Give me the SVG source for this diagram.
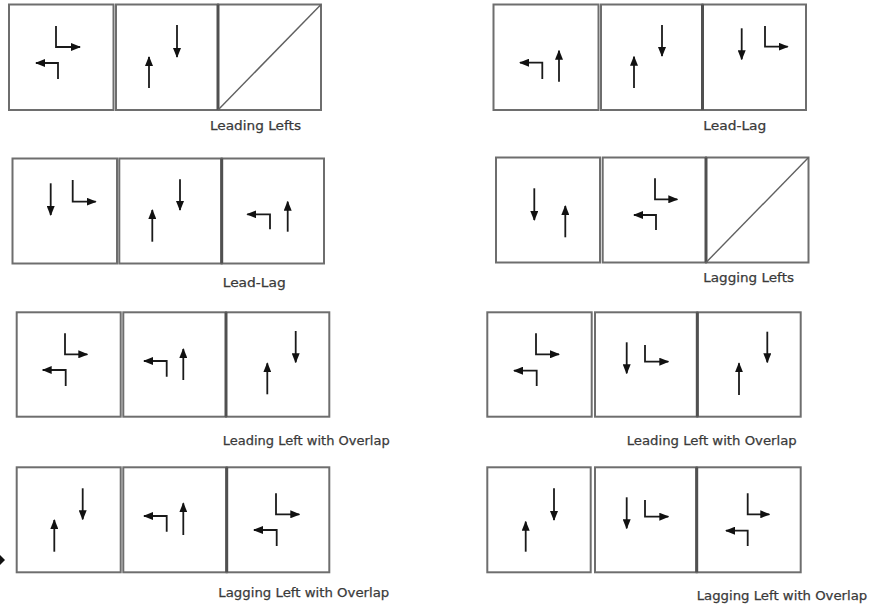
<svg xmlns="http://www.w3.org/2000/svg" width="883" height="613" viewBox="0 0 883 613">
<style>
.bx{fill:none;stroke:#6e6e6e;stroke-width:2}
.dv{stroke:#505050;stroke-width:3}
.ar{fill:none;stroke:#1a1a1a;stroke-width:1.8;marker-end:url(#ah)}
.dg{fill:none;stroke:#606060;stroke-width:1.4}
.lb{font-family:"DejaVu Sans",Verdana,sans-serif;font-size:12.5px;fill:#3a3a3a;stroke:#3a3a3a;stroke-width:0.25}
</style>
<defs>
<marker id="ah" viewBox="0 0 10 8" refX="9" refY="4" markerWidth="10" markerHeight="8" markerUnits="userSpaceOnUse" orient="auto">
<path d="M0,0 L10,4 L0,8 z" fill="#111"/>
</marker>
</defs>
<rect width="883" height="613" fill="#fff"/>

<g id="leading-lefts-1">
<rect class="bx" x="9" y="4.5" width="104.5" height="105.5"/>
<rect class="bx" x="116" y="4.5" width="102" height="105.5"/>
<rect class="bx" x="218" y="4.5" width="103" height="105.5"/>
<line class="dv" x1="218" y1="4.5" x2="218" y2="110"/>
<path class="dg" d="M218,110 L321,4.5"/>
<path class="ar" d="M56,26 V47 H80"/>
<path class="ar" d="M58,79 V63 H36"/>
<path class="ar" d="M149,88 V57"/>
<path class="ar" d="M177,25 V57"/>
<text class="lb" x="210" y="130" textLength="91" lengthAdjust="spacingAndGlyphs">Leading Lefts</text>
</g>

<g id="lead-lag-1">
<rect class="bx" x="493.5" y="4.5" width="105" height="105.5"/>
<rect class="bx" x="601" y="4.5" width="101.5" height="105.5"/>
<rect class="bx" x="702.5" y="4.5" width="103.5" height="105.5"/>
<line class="dv" x1="702.5" y1="4.5" x2="702.5" y2="110"/>
<path class="ar" d="M542.3,79 V62.7 H520"/>
<path class="ar" d="M559,81.7 V50.7"/>
<path class="ar" d="M634,88 V56.7"/>
<path class="ar" d="M662,25 V56"/>
<path class="ar" d="M741.7,28.3 V59.3"/>
<path class="ar" d="M765,26 V46.7 H787.7"/>
<text class="lb" x="703.3" y="130" textLength="63" lengthAdjust="spacingAndGlyphs">Lead-Lag</text>
</g>

<g id="lead-lag-2">
<rect class="bx" x="12.5" y="158.5" width="104.5" height="105"/>
<rect class="bx" x="119.3" y="158.5" width="102.4" height="105"/>
<rect class="bx" x="221.7" y="158.5" width="102.3" height="105"/>
<line class="dv" x1="221.7" y1="158.5" x2="221.7" y2="263.5"/>
<path class="ar" d="M50.7,183.3 V215"/>
<path class="ar" d="M72.7,180 V201.7 H95.7"/>
<path class="ar" d="M152.3,241.7 V210"/>
<path class="ar" d="M180,179.3 V210"/>
<path class="ar" d="M270,229.3 V214.3 H247.3"/>
<path class="ar" d="M287.7,231.7 V201.7"/>
<text class="lb" x="222.7" y="287.3" textLength="63" lengthAdjust="spacingAndGlyphs">Lead-Lag</text>
</g>

<g id="lagging-lefts-1">
<rect class="bx" x="496" y="157.5" width="104" height="105"/>
<rect class="bx" x="602.7" y="157.5" width="103.3" height="105"/>
<rect class="bx" x="706" y="157.5" width="102.5" height="105"/>
<line class="dv" x1="706" y1="157.5" x2="706" y2="262.5"/>
<path class="dg" d="M706,262.5 L808.5,157.5"/>
<path class="ar" d="M534.3,188.3 V220"/>
<path class="ar" d="M565.3,237.3 V206"/>
<path class="ar" d="M655,178.3 V199.3 H677.3"/>
<path class="ar" d="M656,230 V215 H634"/>
<text class="lb" x="703.3" y="281.7" textLength="90.7" lengthAdjust="spacingAndGlyphs">Lagging Lefts</text>
</g>

<g id="leading-left-overlap-1">
<rect class="bx" x="16.7" y="312.3" width="104" height="104.4"/>
<rect class="bx" x="123.3" y="312.3" width="102.7" height="104.4"/>
<rect class="bx" x="226" y="312.3" width="103.3" height="104.4"/>
<line class="dv" x1="226" y1="312.3" x2="226" y2="416.7"/>
<path class="ar" d="M65,333.3 V354.3 H87.3"/>
<path class="ar" d="M65.7,386 V370 H42.7"/>
<path class="ar" d="M166.7,376.7 V361 H144"/>
<path class="ar" d="M183.3,380 V349"/>
<path class="ar" d="M267.3,394.3 V363.3"/>
<path class="ar" d="M295.7,331 V362.3"/>
<text class="lb" x="222.7" y="445" textLength="167" lengthAdjust="spacingAndGlyphs">Leading Left with Overlap</text>
</g>

<g id="leading-left-overlap-2">
<rect class="bx" x="487.3" y="312.3" width="104.4" height="104.4"/>
<rect class="bx" x="595" y="312.3" width="102.3" height="104.4"/>
<rect class="bx" x="697.3" y="312.3" width="103.4" height="104.4"/>
<line class="dv" x1="697.3" y1="312.3" x2="697.3" y2="416.7"/>
<path class="ar" d="M536,333.3 V354.3 H559"/>
<path class="ar" d="M536.7,386 V370.7 H514"/>
<path class="ar" d="M626.7,342.3 V373.3"/>
<path class="ar" d="M645,345 V361.7 H668.3"/>
<path class="ar" d="M739,395 V363.3"/>
<path class="ar" d="M767.3,331.7 V362.3"/>
<text class="lb" x="626.7" y="445" textLength="170" lengthAdjust="spacingAndGlyphs">Leading Left with Overlap</text>
</g>

<g id="lagging-left-overlap-1">
<rect class="bx" x="16.7" y="467.3" width="104" height="105"/>
<rect class="bx" x="123.3" y="467.3" width="103.4" height="105"/>
<rect class="bx" x="226.7" y="467.3" width="102.6" height="105"/>
<line class="dv" x1="226.7" y1="467.3" x2="226.7" y2="572.3"/>
<path class="ar" d="M54.3,551.7 V520"/>
<path class="ar" d="M82.7,488.3 V519.3"/>
<path class="ar" d="M166.7,531.7 V516 H144"/>
<path class="ar" d="M183.3,535 V503.3"/>
<path class="ar" d="M276,493.3 V514.3 H299.3"/>
<path class="ar" d="M276.7,546 V530 H254"/>
<text class="lb" x="218.3" y="597.3" textLength="171" lengthAdjust="spacingAndGlyphs">Lagging Left with Overlap</text>
</g>
<path d="M0,555 L5,560 L0,565 z" fill="#111"/>

<g id="lagging-left-overlap-2">
<rect class="bx" x="487.3" y="467.3" width="103.4" height="105"/>
<rect class="bx" x="595" y="467.3" width="101.7" height="105"/>
<rect class="bx" x="696.7" y="467.3" width="104" height="105"/>
<line class="dv" x1="696.7" y1="467.3" x2="696.7" y2="572.3"/>
<path class="ar" d="M525.7,551.7 V521.7"/>
<path class="ar" d="M554,488.3 V520"/>
<path class="ar" d="M626.7,497.3 V528.3"/>
<path class="ar" d="M645,500 V516.7 H668.3"/>
<path class="ar" d="M747.7,493.3 V514.3 H769.3"/>
<path class="ar" d="M747.7,546 V530.7 H726"/>
<text class="lb" x="696.7" y="600" textLength="170.6" lengthAdjust="spacingAndGlyphs">Lagging Left with Overlap</text>
</g>
</svg>
